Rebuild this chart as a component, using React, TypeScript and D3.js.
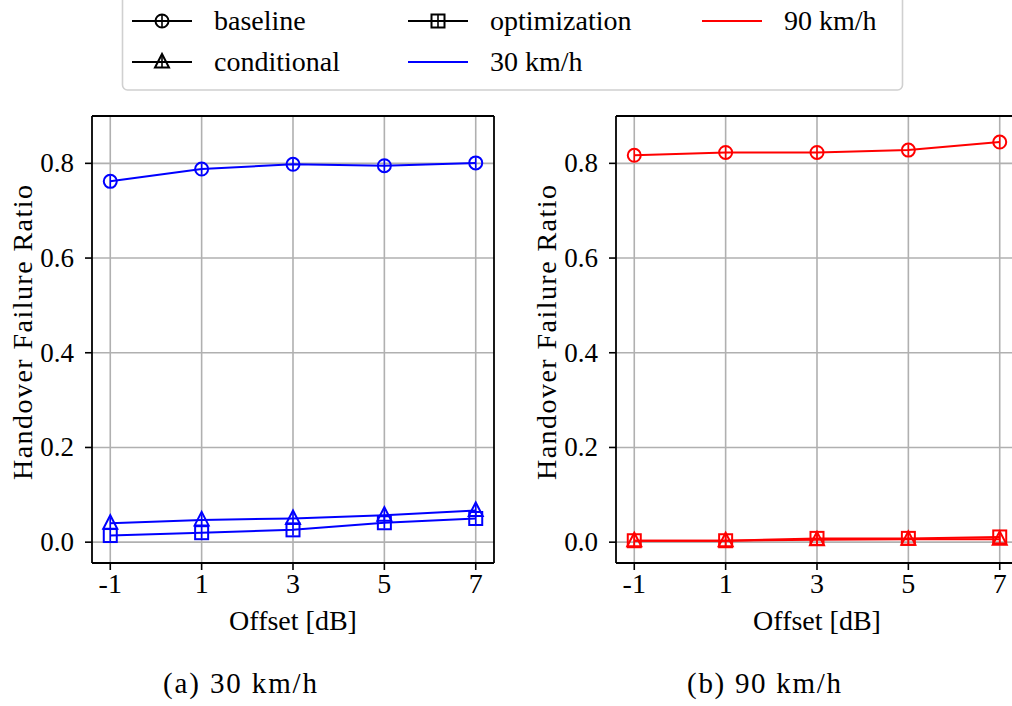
import React from "react";
import * as d3 from "d3";

const offsets = [-1, 1, 3, 5, 7];
const xTicks = [-1, 1, 3, 5, 7];
const yTicks = [0.0, 0.2, 0.4, 0.6, 0.8];

const base30 = [0.762, 0.788, 0.798, 0.795, 0.801];
const cond30 = [0.040, 0.047, 0.050, 0.057, 0.067];
const opt30 = [0.014, 0.020, 0.026, 0.041, 0.050];

const base90 = [0.817, 0.823, 0.823, 0.828, 0.845];
const cond90 = [0.003, 0.003, 0.005, 0.006, 0.006];
const opt90 = [0.003, 0.003, 0.008, 0.008, 0.011];

const errBar = [0.012, 0.012, 0.012, 0.012, 0.012];

const legendItems = [
  { label: "baseline", marker: "circle", color: "#000" },
  { label: "conditional", marker: "triangle", color: "#000" },
  { label: "optimization", marker: "square", color: "#000" },
  { label: "30 km/h", marker: "none", color: "#0000ff" },
  { label: "90 km/h", marker: "none", color: "#ff0000" },
];

const FONT = "'Liberation Serif', 'DejaVu Serif', serif";
const FS = 28;

function Marker({ type, x, y, color }: { type: string; x: number; y: number; color: string }) {
  const sw = 2;
  if (type === "circle") return <circle cx={x} cy={y} r={6.5} fill="none" stroke={color} strokeWidth={sw} />;
  if (type === "square") return <rect x={x - 6.5} y={y - 6.5} width={13} height={13} fill="none" stroke={color} strokeWidth={sw} />;
  if (type === "triangle") {
    const p = `${x},${y - 8} ${x - 7},${y + 5.5} ${x + 7},${y + 5.5}`;
    return <polygon points={p} fill="none" stroke={color} strokeWidth={sw} />;
  }
  return null;
}

function Panel({ x0, x1, color, series, caption }: any) {
  const top = 116, bottom = 563;
  const x = d3.scaleLinear().domain([-1.4, 7.4]).range([x0, x1]);
  const y = d3.scaleLinear().domain([-0.044, 0.9]).range([bottom, top]);
  const line = d3.line<number>().x((_, i) => x(offsets[i])).y((v) => y(v));
  const cx = (x0 + x1) / 2;
  return (
    <g fontFamily={FONT} fontSize={FS} fill="#000">
      {xTicks.map((t) => (
        <line key={"gx" + t} x1={x(t)} x2={x(t)} y1={top} y2={bottom} stroke="#b0b0b0" strokeWidth={1.6} />
      ))}
      {yTicks.map((t) => (
        <line key={"gy" + t} x1={x0} x2={x1} y1={y(t)} y2={y(t)} stroke="#b0b0b0" strokeWidth={1.6} />
      ))}
      {series.map((s: any, si: number) => (
        <g key={si}>
          <path d={line(s.values) || ""} fill="none" stroke={color} strokeWidth={2} />
          {s.values.map((v: number, i: number) => (
            <g key={i}>
              <line x1={x(offsets[i])} x2={x(offsets[i])} y1={y(v - errBar[i])} y2={y(v + errBar[i])} stroke={color} strokeWidth={1.6} />
              <Marker type={s.marker} x={x(offsets[i])} y={y(v)} color={color} />
            </g>
          ))}
        </g>
      ))}
      <line x1={x0} x2={x0} y1={top} y2={bottom} stroke="#000" strokeWidth={1.8} />
      <line x1={x1} x2={x1} y1={top} y2={bottom} stroke="#000" strokeWidth={1.8} />
      <line x1={x0} x2={x1} y1={top} y2={top} stroke="#000" strokeWidth={1.8} />
      <line x1={x0} x2={x1} y1={bottom} y2={bottom} stroke="#000" strokeWidth={1.8} />
      {xTicks.map((t) => (
        <g key={"tx" + t}>
          <line x1={x(t)} x2={x(t)} y1={bottom} y2={bottom + 7} stroke="#000" strokeWidth={1.6} />
          <text x={x(t)} y={593} textAnchor="middle">{t}</text>
        </g>
      ))}
      {yTicks.map((t) => (
        <g key={"ty" + t}>
          <line x1={x0 - 7} x2={x0} y1={y(t)} y2={y(t)} stroke="#000" strokeWidth={1.6} />
          <text x={x0 - 18} y={y(t) + 9} textAnchor="end" fontSize={27}>{t.toFixed(1)}</text>
        </g>
      ))}
      <text x={cx} y={630} textAnchor="middle">Offset [dB]</text>
      <text
        transform={`translate(${x0 - 70},${(top + bottom) / 2 - 7}) rotate(-90)`}
        textAnchor="middle"
        dominantBaseline="central"
        textLength={295}
        lengthAdjust="spacing"
      >
        Handover Failure Ratio
      </text>
      <text x={cx - 53} y={693} textAnchor="middle" fontSize={29} textLength={154} lengthAdjust="spacing">{caption}</text>
    </g>
  );
}

function Legend() {
  const cols = [132, 408, 702];
  const rows = [21, 62];
  const pos = [
    [0, 0], [0, 1], [1, 0], [1, 1], [2, 0],
  ];
  return (
    <g fontFamily={FONT} fontSize={FS}>
      <rect x={122.5} y={-10} width={780} height={100} rx={5} fill="#fff" stroke="#d0d0d0" strokeWidth={1.6} />
      {legendItems.map((it, i) => {
        const [c, r] = pos[i];
        const lx = cols[c], ly = rows[r];
        return (
          <g key={it.label}>
            <line x1={lx} x2={lx + 60} y1={ly} y2={ly} stroke={it.color} strokeWidth={2} />
            {it.marker !== "none" && (
              <>
                <line x1={lx + 30} x2={lx + 30} y1={ly - 6} y2={ly + 6} stroke={it.color} strokeWidth={1.6} />
                <Marker type={it.marker} x={lx + 30} y={ly} color={it.color} />
              </>
            )}
            <text x={lx + 82} y={ly + 9} fill="#000">{it.label}</text>
          </g>
        );
      })}
    </g>
  );
}

export default function App() {
  return (
    <svg width={1012} height={706} style={{ position: "absolute", left: 0, top: 0, background: "#fff" }}>
      <rect x={0} y={0} width={1012} height={706} fill="#fff" />
      <Panel
        x0={92}
        x1={494}
        color="#0000ff"
        caption="(a) 30 km/h"
        series={[
          { values: base30, marker: "circle" },
          { values: cond30, marker: "triangle" },
          { values: opt30, marker: "square" },
        ]}
      />
      <Panel
        x0={616}
        x1={1018}
        color="#ff0000"
        caption="(b) 90 km/h"
        series={[
          { values: base90, marker: "circle" },
          { values: cond90, marker: "triangle" },
          { values: opt90, marker: "square" },
        ]}
      />
      <Legend />
    </svg>
  );
}
